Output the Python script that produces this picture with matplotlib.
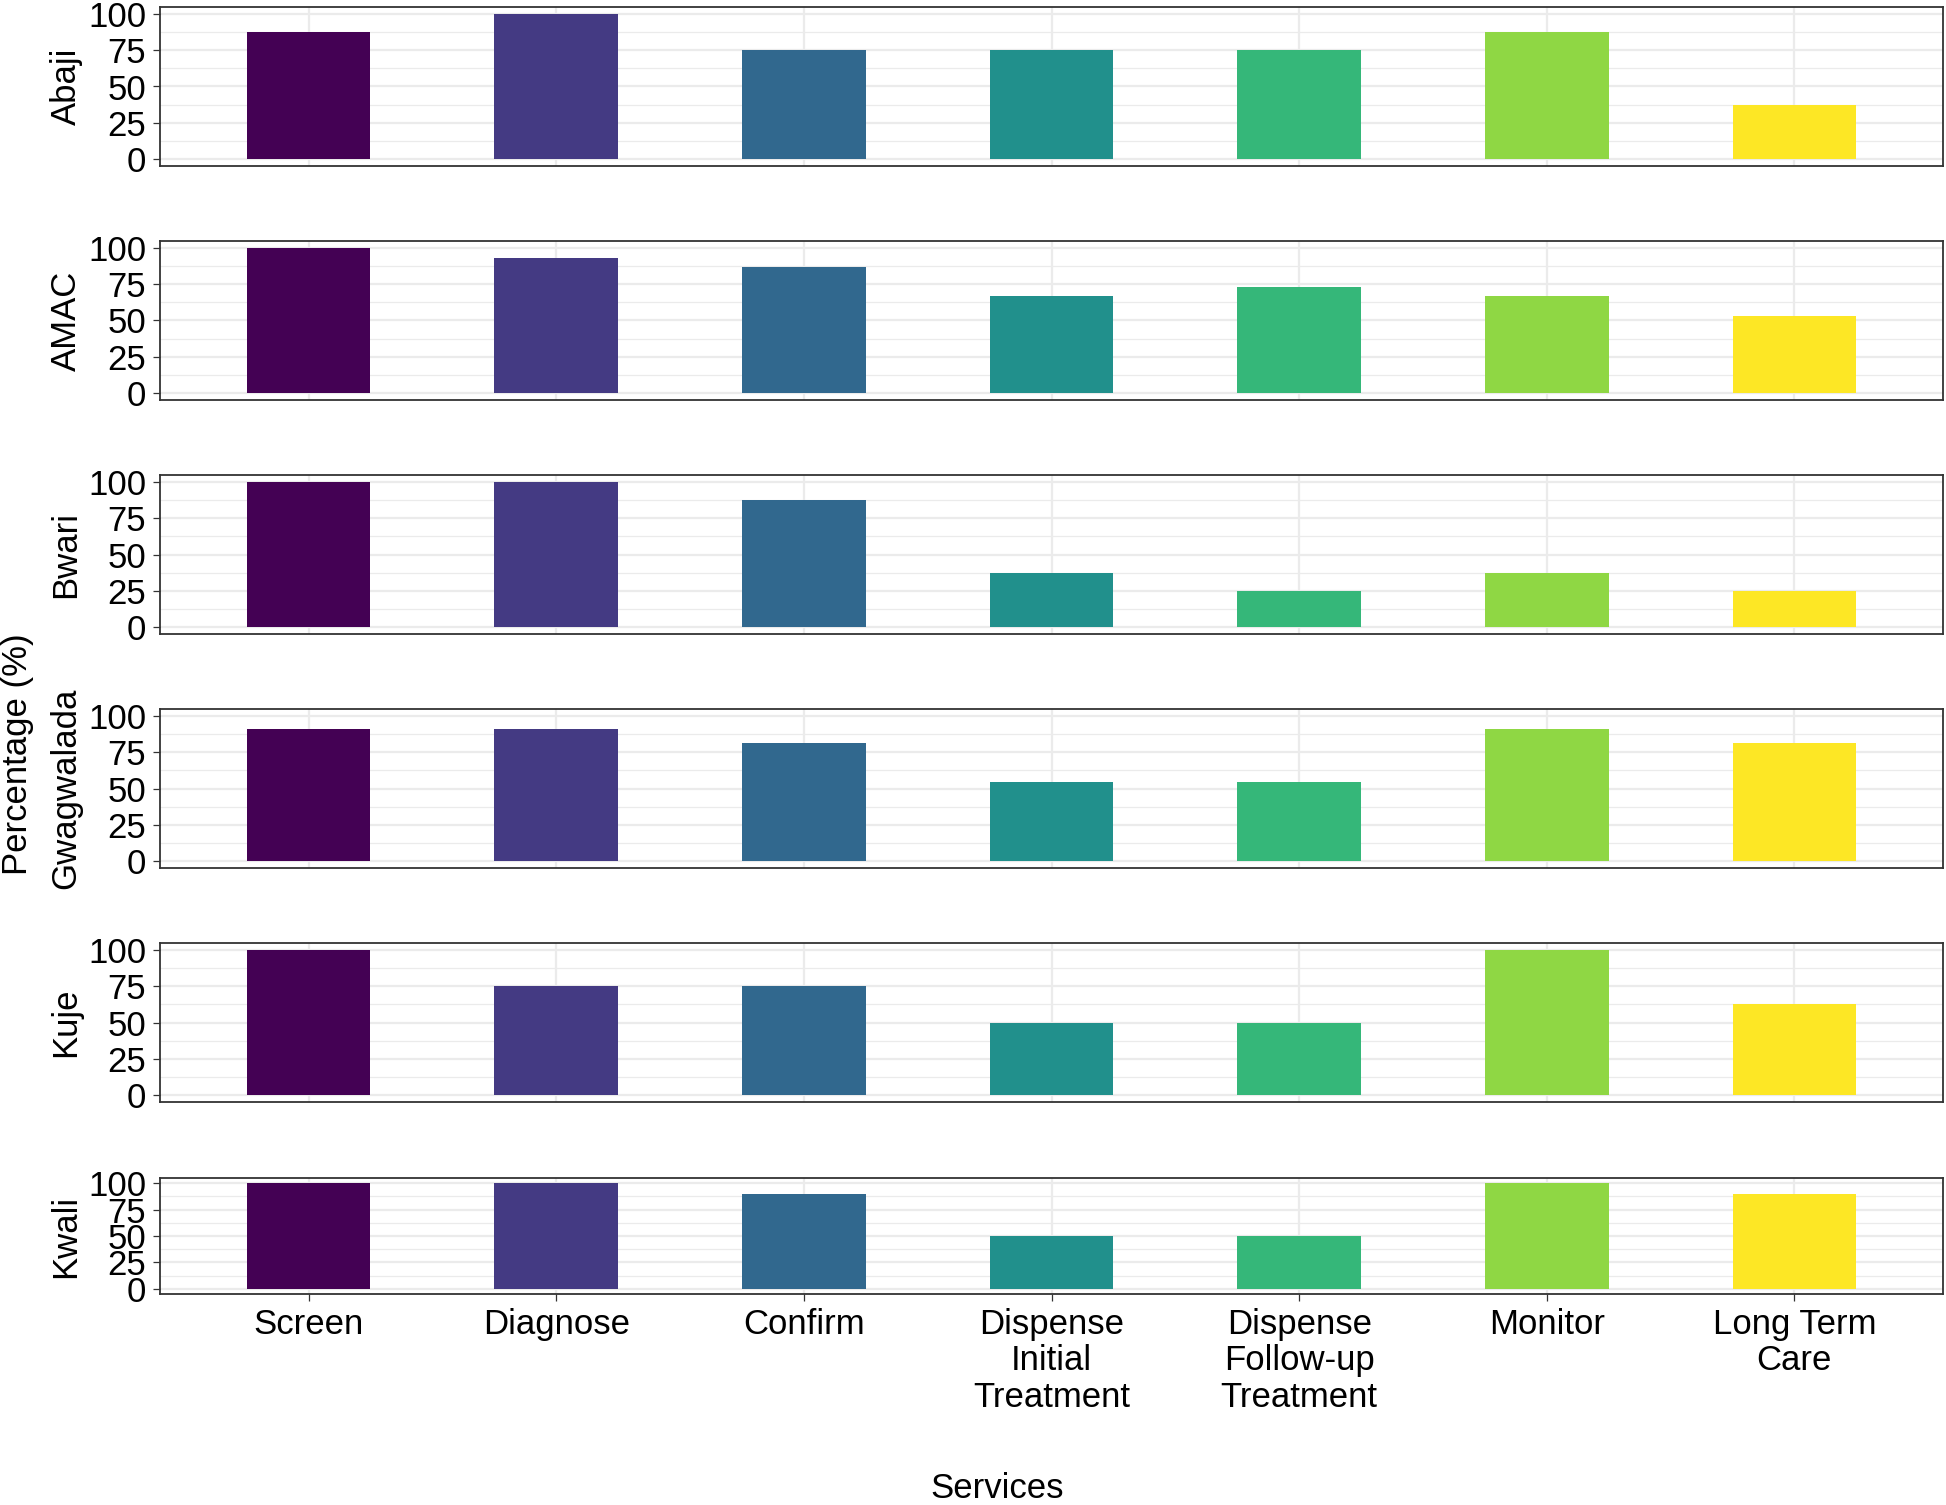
import matplotlib
matplotlib.use("Agg")
import matplotlib.pyplot as plt
import numpy as np

plt.rcParams["font.family"] = ["Liberation Sans", "DejaVu Sans"]

services = ["Screen", "Diagnose", "Confirm", "Dispense\nInitial\nTreatment",
            "Dispense\nFollow-up\nTreatment", "Monitor", "Long Term\nCare"]
areas = ["Abaji", "AMAC", "Bwari", "Gwagwalada", "Kuje", "Kwali"]

abaji = [87.5, 100, 75, 75, 75, 87.5, 37.5]
amac = [100, 93.3, 86.7, 66.7, 73.3, 66.7, 53.3]
bwari = [100, 100, 87.5, 37.5, 25, 37.5, 25]
gwagwalada = [90.9, 90.9, 81.8, 54.5, 54.5, 90.9, 81.8]
kuje = [100, 75, 75, 50, 50, 100, 62.5]
kwali = [100, 100, 90, 50, 50, 100, 90]
values = [abaji, amac, bwari, gwagwalada, kuje, kwali]

colors = ["#440154", "#443A83", "#31688E", "#21908C", "#35B779", "#8FD744", "#FDE725"]

FS = 25
W, H = 1946, 1505
fig = plt.figure(figsize=(W / 100, H / 100), dpi=100)

# panel (top, bottom) in pixels; the last panel is squeezed by the x labels
panels = [(7, 166), (241, 400), (475, 634), (709, 868), (943, 1102), (1178, 1294)]
left, right = 160, 1943

x = np.arange(len(services))
for i, (name, vals) in enumerate(zip(areas, values)):
    top, bot = panels[i]
    ax = fig.add_axes([left / W, 1 - bot / H, (right - left) / W, (bot - top) / H])
    ax.bar(x, vals, width=0.5, color=colors, edgecolor="none")
    ax.set_xlim(-0.6, len(services) - 0.4)
    ax.set_ylim(-5, 105)
    ax.set_yticks([0, 25, 50, 75, 100])
    ax.set_yticks([12.5, 37.5, 62.5, 87.5], minor=True)
    ax.set_axisbelow(True)
    ax.grid(True, which="major", color="#EBEBEB", lw=1.6)
    ax.grid(True, which="minor", axis="y", color="#EBEBEB", lw=0.9)
    for s in ax.spines.values():
        s.set_color("#333333")
        s.set_linewidth(1.3)
    ax.tick_params(axis="y", which="major", labelsize=FS, length=5, width=0.9,
                   color="#333333", pad=5)
    ax.tick_params(axis="y", which="minor", length=0)
    ax.set_xticks(x)
    if i == len(areas) - 1:
        ax.set_xticklabels(services, fontsize=FS, linespacing=1.13)
        ax.tick_params(axis="x", length=5, width=0.9, color="#333333", pad=5)
    else:
        ax.set_xticklabels([])
        ax.tick_params(axis="x", length=0)
    fig.text(66 / W, 1 - (top + bot) / 2 / H, name, rotation=90, ha="center",
             va="center", fontsize=FS)

fig.text(18 / W, 1 - 754 / H, "Percentage (%)", rotation=90, ha="center",
         va="center", fontsize=FS)
fig.text(997 / W, 1 - 1489 / H, "Services", ha="center", va="center", fontsize=FS)

fig.savefig("out.png", dpi=100, facecolor="white")
